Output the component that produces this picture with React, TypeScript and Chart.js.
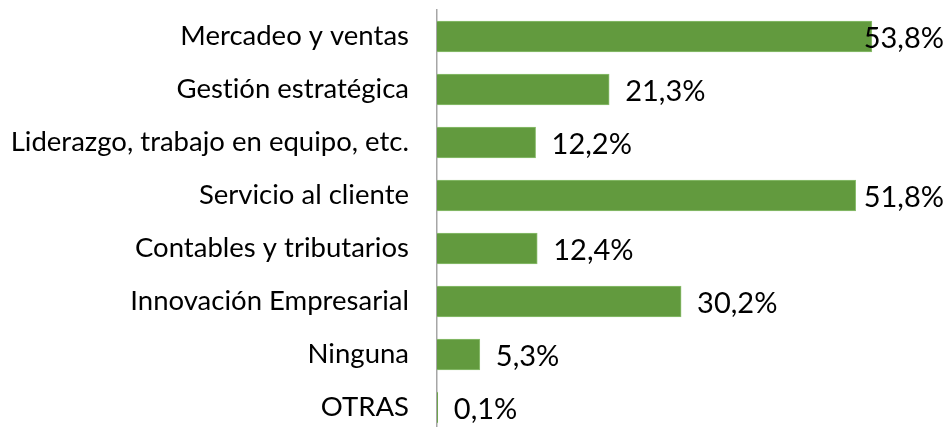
import React, { useEffect, useRef } from "react";
import { Chart, registerables } from "chart.js";

Chart.register(...registerables);

const categories = [
  "Mercadeo y ventas",
  "Gestión estratégica",
  "Liderazgo, trabajo en equipo, etc.",
  "Servicio al cliente",
  "Contables y tributarios",
  "Innovación Empresarial",
  "Ninguna",
  "OTRAS",
];
const values = [53.8, 21.3, 12.2, 51.8, 12.4, 30.2, 5.3, 0.1];
const valueLabels = ["53,8%", "21,3%", "12,2%", "51,8%", "12,4%", "30,2%", "5,3%", "0,1%"];

const FONT = "Lato, 'Open Sans', sans-serif";

const noLigaturePlugin = {
  id: "noLigatures",
  beforeDraw(chart: any) {
    const ctx = chart.ctx as any;
    if ("letterSpacing" in ctx) ctx.letterSpacing = "0.01px";
  },
};

const labelPlugin = {
  id: "barLabels",
  afterDatasetsDraw(chart: any) {
    const ctx = chart.ctx;
    const meta = chart.getDatasetMeta(0);
    ctx.save();
    ctx.font = `29px ${FONT}`;
    ctx.fillStyle = "#000000";
    ctx.textBaseline = "middle";
    ctx.textAlign = "left";
    meta.data.forEach((el: any, i: number) => {
      const txt = valueLabels[i];
      const w = ctx.measureText(txt).width;
      const x = Math.min(el.x + 16, chart.width - w - 2);
      ctx.fillText(txt, x, el.y + 2);
    });
    ctx.restore();
  },
};

export default function App() {
  const ref = useRef<HTMLCanvasElement>(null);
  useEffect(() => {
    if (!ref.current) return;
    const chart = new Chart(ref.current, {
      type: "bar",
      data: {
        labels: categories,
        datasets: [
          {
            data: values,
            backgroundColor: "#629a3e",
            borderColor: "#8dbf70",
            borderWidth: 1,
            barThickness: 31,
          },
        ],
      },
      options: {
        indexAxis: "y",
        animation: false,
        responsive: false,
        maintainAspectRatio: false,
        layout: { padding: { top: 10, right: 24, bottom: 0, left: 0 } },
        plugins: { legend: { display: false }, tooltip: { enabled: false } },
        scales: {
          x: { display: false, min: 0, max: 60 },
          y: {
            afterFit(scale: any) {
              scale.width = 437;
              scale.paddingTop = 0;
              scale.paddingBottom = 0;
            },
            grid: { display: false, drawTicks: false },
            border: { display: true, color: "#a6a6a6", width: 1.5 },
            ticks: {
              padding: 28,
              color: "#000000",
              font: { family: FONT, size: 27.5 },
            },
          },
        },
      },
      plugins: [noLigaturePlugin, labelPlugin],
    });
    return () => chart.destroy();
  }, []);
  return (
    <div style={{ position: "fixed", left: 0, top: 0, width: 946, height: 427, overflow: "hidden", background: "#fff" }}>
      <canvas ref={ref} width={946} height={434} style={{ display: "block", width: 946, height: 434 }} />
    </div>
  );
}
